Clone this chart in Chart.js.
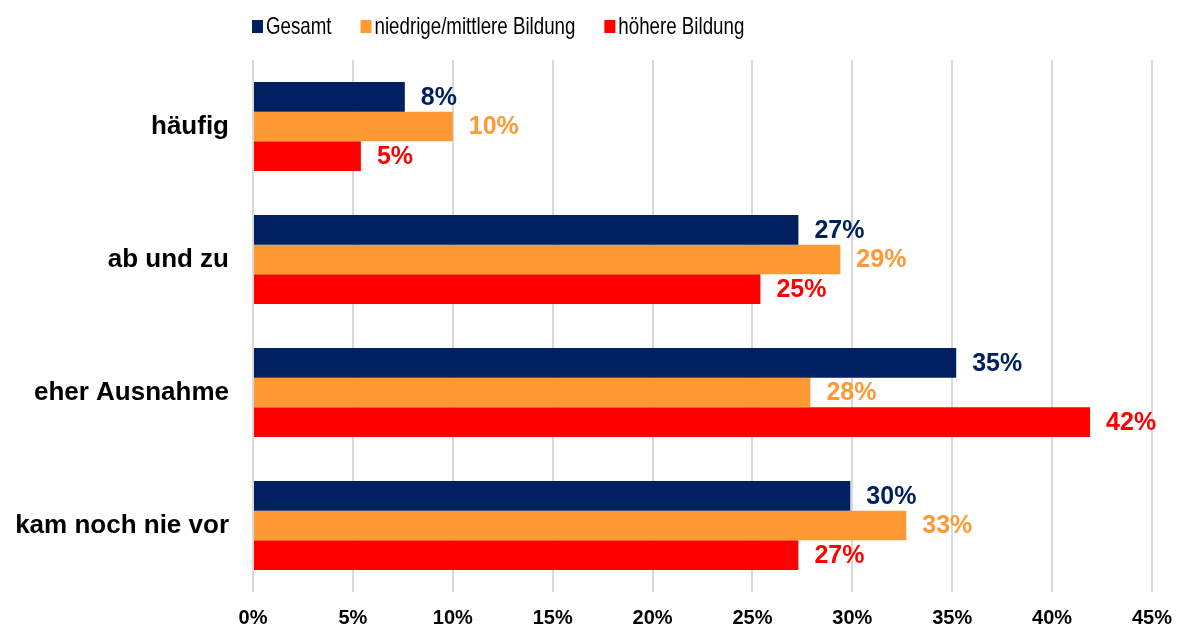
<!DOCTYPE html>
<html>
<head>
<meta charset="utf-8">
<script src="https://cdn.jsdelivr.net/npm/chart.js@4"></script>
<style>
  html, body { margin: 0; padding: 0; background: #fff; }
  #wrap { width: 1180px; height: 626px; }
</style>
</head>
<body>
<div id="wrap"><canvas id="myChart" width="1180" height="626"></canvas></div>
<script>
const categories = ['häufig', 'ab und zu', 'eher Ausnahme', 'kam noch nie vor'];
const seriesNames = ['Gesamt', 'niedrige/mittlere Bildung', 'höhere Bildung'];
const gesamt = [7.6, 27.3, 35.2, 29.9];
const niedrigeBildung = [10.0, 29.4, 27.9, 32.7];
const hoehereBildung = [5.4, 25.4, 41.9, 27.3];
const xTicks = [0, 5, 10, 15, 20, 25, 30, 35, 40, 45];

const colors = ['#002060', '#FF9933', '#FF0000'];
const FONT = '"Liberation Sans", Arial, sans-serif';

// value labels to the right of each bar
const valueLabels = {
    id: 'valueLabels',
    afterDatasetsDraw(chart) {
        const ctx = chart.ctx;
        ctx.save();
        ctx.font = 'bold 25px ' + FONT;
        ctx.textBaseline = 'middle';
        ctx.textAlign = 'left';
        chart.data.datasets.forEach((ds, i) => {
            chart.getDatasetMeta(i).data.forEach((bar, j) => {
                ctx.fillStyle = ds.backgroundColor;
                ctx.fillText(Math.round(ds.data[j]) + '%', bar.x + 16, bar.y + 1);
            });
        });
        ctx.restore();
    }
};

// legend drawn by hand (narrow font, starts at the plot's left edge)
const topLegend = {
    id: 'topLegend',
    afterDraw(chart) {
        const ctx = chart.ctx;
        ctx.save();
        ctx.font = '24px ' + FONT;
        ctx.textBaseline = 'middle';
        let x = chart.chartArea.left - 1;
        const y = 27;
        const squeeze = 0.78;
        chart.data.datasets.forEach(ds => {
            ctx.fillStyle = ds.backgroundColor;
            ctx.fillRect(x, y - 7, 11, 13);
            const tx = x + 14;
            ctx.fillStyle = '#000';
            ctx.save();
            ctx.translate(tx, y);
            ctx.scale(squeeze, 1);
            ctx.fillText(ds.label, 0, 0);
            ctx.restore();
            x = tx + ctx.measureText(ds.label).width * squeeze + 29;
        });
        ctx.restore();
    }
};

const noPad = scale => {
    scale.paddingTop = 0;
    scale.paddingBottom = 0;
    scale.paddingLeft = 0;
    scale.paddingRight = 0;
};

const ctx = document.getElementById('myChart').getContext('2d');
new Chart(ctx, {
    type: 'bar',
    data: {
        labels: categories,
        datasets: [
            { label: seriesNames[0], data: gesamt, backgroundColor: colors[0] },
            { label: seriesNames[1], data: niedrigeBildung, backgroundColor: colors[1] },
            { label: seriesNames[2], data: hoehereBildung, backgroundColor: colors[2] }
        ]
    },
    options: {
        indexAxis: 'y',
        responsive: false,
        animation: false,
        devicePixelRatio: 1,
        layout: { padding: { top: 60, right: 28, left: 0, bottom: 0 } },
        datasets: {
            bar: { categoryPercentage: 0.67, barPercentage: 1.0, borderWidth: 0 }
        },
        plugins: {
            legend: { display: false },
            tooltip: { enabled: false }
        },
        scales: {
            x: {
                min: 0,
                max: 45,
                afterBuildTicks: scale => { scale.ticks = xTicks.map(v => ({ value: v })); },
                afterFit: scale => { scale.height = 34; noPad(scale); },
                grid: { color: '#d9d9d9', lineWidth: 2, drawTicks: false },
                border: { display: false },
                ticks: {
                    padding: 14,
                    color: '#000',
                    font: { family: FONT, size: 20, weight: 'bold' },
                    callback: v => v + '%'
                }
            },
            y: {
                afterFit: scale => { scale.width = 253; noPad(scale); },
                grid: { display: false, drawTicks: false },
                border: { display: false },
                ticks: {
                    padding: 24,
                    color: '#000',
                    font: { family: FONT, size: 26, weight: 'bold' }
                }
            }
        }
    },
    plugins: [valueLabels, topLegend]
});
</script>
</body>
</html>
